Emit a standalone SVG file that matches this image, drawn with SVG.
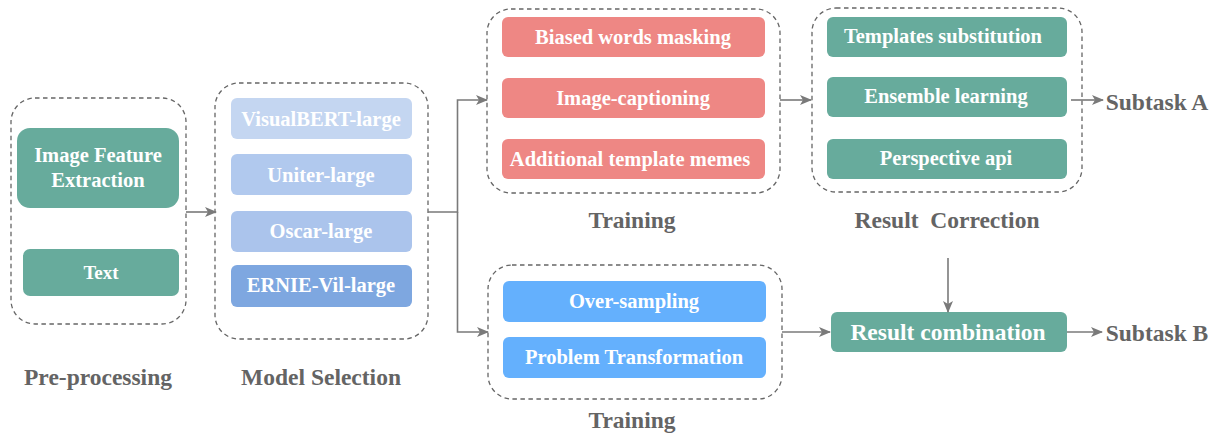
<svg xmlns="http://www.w3.org/2000/svg" width="1220" height="435" viewBox="0 0 1220 435">
  <style>
    text { font-family: "Liberation Serif", "Times New Roman", serif; font-weight: bold; text-anchor: middle; }
    .group { fill: none; stroke: #666; stroke-width: 1.3; stroke-dasharray: 4.5 3.5; }
    .node-text { fill: #ffffff; font-size: 20.5px; }
    .label { fill: #646464; font-size: 23.5px; }
    .teal { fill: #67ab9c; }
    .red { fill: #ee8784; }
    .blue { fill: #64b0fd; }
    .edge { fill: none; stroke: #7a7a7a; stroke-width: 1.6; }
  </style>
  <defs>
    <marker id="arrow" viewBox="0 0 12 10" refX="11" refY="5" markerWidth="12" markerHeight="10" markerUnits="userSpaceOnUse" orient="auto">
      <path d="M0,0 L12,5 L0,10 L3,5 Z" fill="#7a7a7a"/>
    </marker>
  </defs>

  <!-- Pre-processing -->
  <g id="preprocessing">
    <rect class="group" x="11" y="98" width="175" height="226" rx="24"/>
    <text class="label" x="98" y="385">Pre-processing</text>
  </g>
  <g id="image-feature-extraction">
    <rect class="teal" x="17" y="128" width="162" height="80" rx="13"/>
    <text class="node-text" x="98" y="162">Image Feature</text>
    <text class="node-text" x="98" y="187">Extraction</text>
  </g>
  <g id="text-input">
    <rect class="teal" x="23" y="249" width="156" height="47" rx="7"/>
    <text class="node-text" x="101" y="279" style="font-size:19px">Text</text>
  </g>

  <!-- Model Selection -->
  <g id="model-selection">
    <rect class="group" x="215" y="83" width="213" height="256" rx="24"/>
    <text class="label" x="321" y="385">Model Selection</text>
  </g>
  <g id="visualbert">
    <rect x="231" y="98" width="181" height="41" rx="6" fill="#c4d6f1"/>
    <text class="node-text" x="321" y="126">VisualBERT-large</text>
  </g>
  <g id="uniter">
    <rect x="231" y="154" width="181" height="41" rx="6" fill="#b1c9ee"/>
    <text class="node-text" x="321" y="182">Uniter-large</text>
  </g>
  <g id="oscar">
    <rect x="231" y="211" width="181" height="41" rx="6" fill="#abc4ec"/>
    <text class="node-text" x="321" y="238">Oscar-large</text>
  </g>
  <g id="ernie">
    <rect x="231" y="265" width="181" height="42" rx="6" fill="#7ea7e0"/>
    <text class="node-text" x="321" y="292">ERNIE-Vil-large</text>
  </g>

  <!-- Training (Subtask A) -->
  <g id="training-a">
    <rect class="group" x="487" y="9" width="293" height="184" rx="24"/>
    <text class="label" x="632" y="228">Training</text>
  </g>
  <g id="biased-words-masking">
    <rect class="red" x="502" y="17" width="263" height="40" rx="6"/>
    <text class="node-text" x="633" y="44">Biased words masking</text>
  </g>
  <g id="image-captioning">
    <rect class="red" x="502" y="78" width="263" height="40" rx="6"/>
    <text class="node-text" x="633" y="105">Image-captioning</text>
  </g>
  <g id="additional-template-memes">
    <rect class="red" x="502" y="139" width="263" height="40" rx="6"/>
    <text class="node-text" x="630" y="166">Additional template memes</text>
  </g>

  <!-- Training (Subtask B) -->
  <g id="training-b">
    <rect class="group" x="488" y="265" width="294" height="134" rx="24"/>
    <text class="label" x="632" y="428">Training</text>
  </g>
  <g id="over-sampling">
    <rect class="blue" x="503" y="281" width="263" height="41" rx="6"/>
    <text class="node-text" x="634" y="308">Over-sampling</text>
  </g>
  <g id="problem-transformation">
    <rect class="blue" x="503" y="337" width="263" height="41" rx="6"/>
    <text class="node-text" x="634" y="364">Problem Transformation</text>
  </g>

  <!-- Result Correction -->
  <g id="result-correction">
    <rect class="group" x="812" y="8" width="270" height="184" rx="24"/>
    <text class="label" x="947" y="228" xml:space="preserve">Result  Correction</text>
  </g>
  <g id="templates-substitution">
    <rect class="teal" x="827" y="17" width="240" height="40" rx="6"/>
    <text class="node-text" x="943" y="43">Templates substitution</text>
  </g>
  <g id="ensemble-learning">
    <rect class="teal" x="827" y="77" width="240" height="40" rx="6"/>
    <text class="node-text" x="946" y="103">Ensemble learning</text>
  </g>
  <g id="perspective-api">
    <rect class="teal" x="827" y="139" width="240" height="40" rx="6"/>
    <text class="node-text" x="946" y="165">Perspective api</text>
  </g>

  <!-- Result combination -->
  <g id="result-combination">
    <rect class="teal" x="831" y="312" width="236" height="40" rx="6"/>
    <text class="node-text" x="948" y="340" style="font-size:23.5px">Result combination</text>
  </g>

  <!-- Outputs -->
  <g id="subtask-a">
    <text class="label" x="1157" y="110">Subtask A</text>
  </g>
  <g id="subtask-b">
    <text class="label" x="1157" y="341">Subtask B</text>
  </g>

  <!-- Connectors -->
  <g id="connectors">
    <path class="edge" d="M186,212 H216" marker-end="url(#arrow)"/>
    <path class="edge" d="M428,212 H457.5 V100 H487" marker-end="url(#arrow)"/>
    <path class="edge" d="M457.5,212 V332 H488" marker-end="url(#arrow)"/>
    <path class="edge" d="M780,100 H811" marker-end="url(#arrow)"/>
    <path class="edge" d="M1071,100 H1103" marker-end="url(#arrow)"/>
    <path class="edge" d="M948,258 V312" marker-end="url(#arrow)"/>
    <path class="edge" d="M782,332 H830" marker-end="url(#arrow)"/>
    <path class="edge" d="M1067,332 H1102" marker-end="url(#arrow)"/>
  </g>
</svg>
